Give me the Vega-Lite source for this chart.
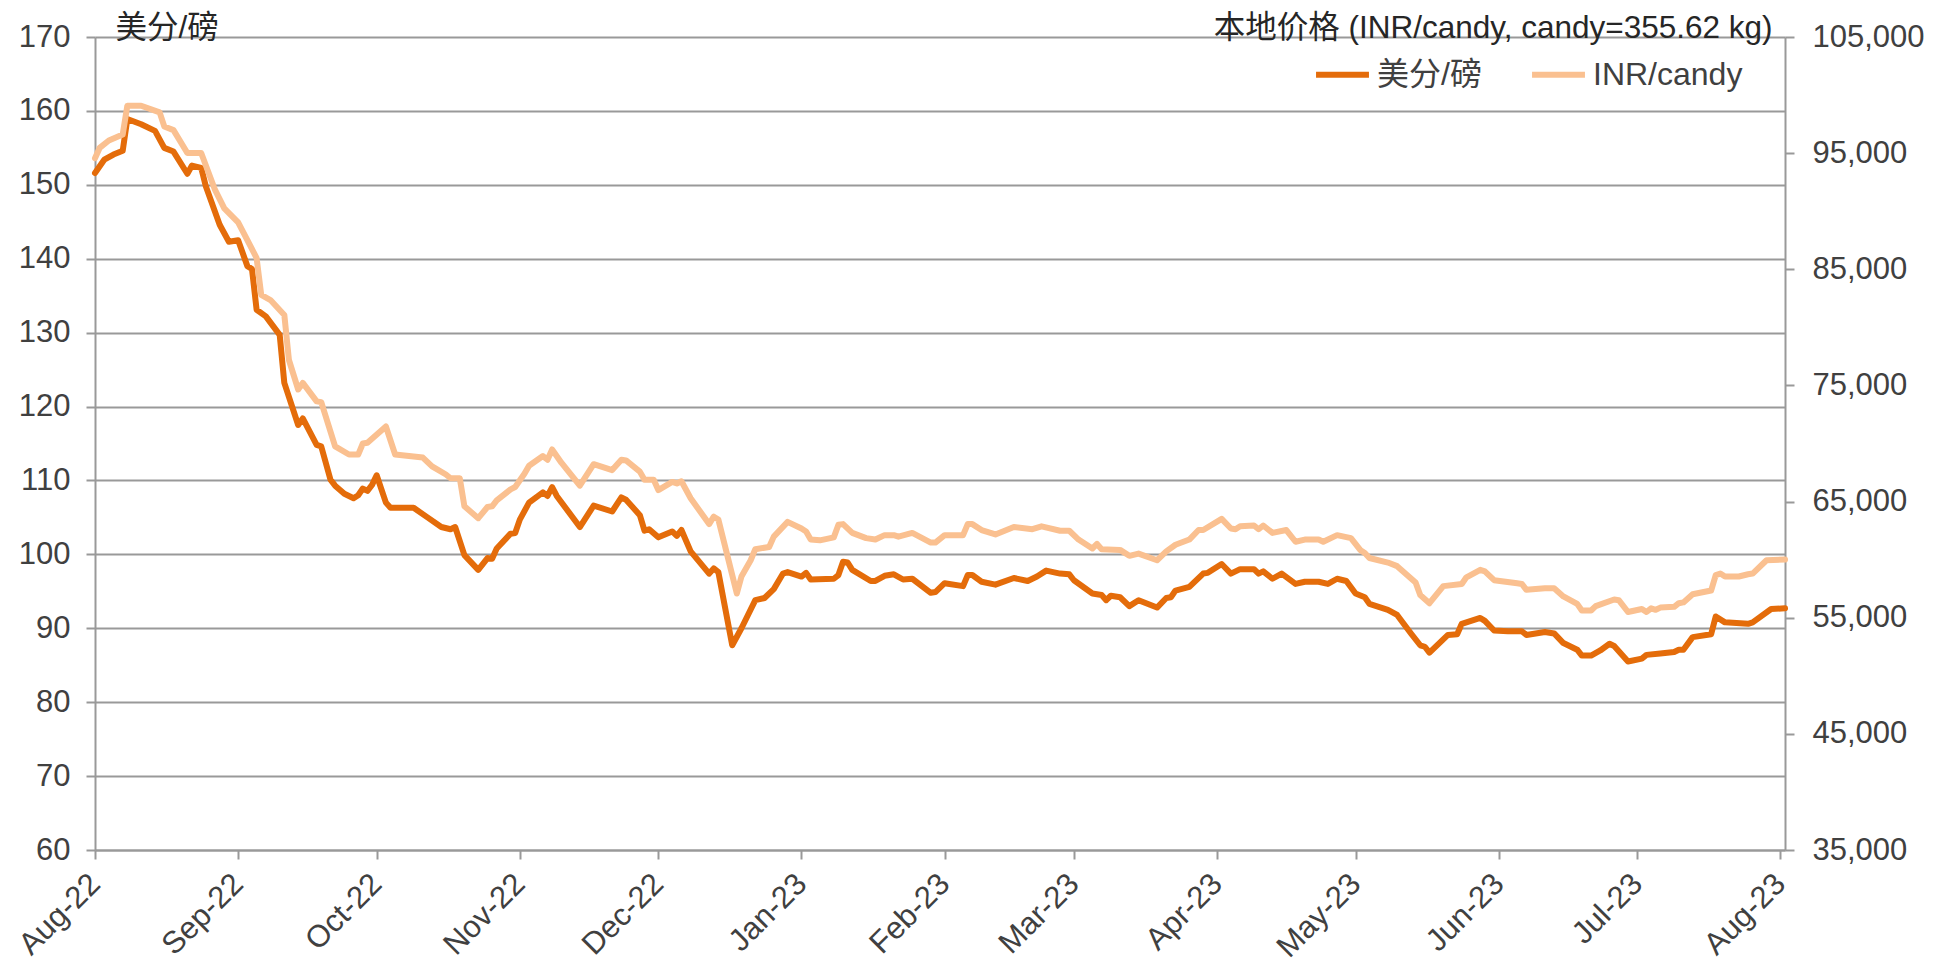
{
  "$schema": "https://vega.github.io/schema/vega-lite/v6.json",
  "autosize": {"type": "none"},
  "padding": {"left": 95, "top": 37, "right": 158, "bottom": 118},
  "width": 1690,
  "height": 813,
  "background": "white",
  "config": {
    "view": {"stroke": null},
    "font": "Liberation Sans",
    "axis": {
      "labelFont": "Liberation Sans",
      "labelFontSize": 31,
      "labelColor": "#404040",
      "domainColor": "#999999",
      "domainWidth": 2,
      "tickColor": "#999999",
      "tickWidth": 2,
      "tickSize": 9,
      "gridColor": "#999999",
      "gridWidth": 2,
      "titleFont": "Liberation Sans, Noto Sans CJK SC",
      "titleFontSize": 31.5,
      "titleFontWeight": "normal",
      "titleColor": "#262626"
    },
    "legend": {
      "labelFont": "Liberation Sans, Noto Sans CJK SC",
      "labelFontSize": 32,
      "labelColor": "#404040"
    }
  },
  "datasets": {
    "usc": [
      {"date": "2022-08-01", "value": 151.6}, {"date": "2022-08-03", "value": 153.4}, {"date": "2022-08-05", "value": 154.1}, {"date": "2022-08-07", "value": 154.6},
      {"date": "2022-08-08", "value": 158.9}, {"date": "2022-08-11", "value": 158.2}, {"date": "2022-08-14", "value": 157.3}, {"date": "2022-08-16", "value": 155.0},
      {"date": "2022-08-18", "value": 154.5}, {"date": "2022-08-21", "value": 151.5}, {"date": "2022-08-22", "value": 152.6}, {"date": "2022-08-24", "value": 152.3},
      {"date": "2022-08-25", "value": 149.8}, {"date": "2022-08-28", "value": 144.6}, {"date": "2022-08-30", "value": 142.3}, {"date": "2022-09-01", "value": 142.5},
      {"date": "2022-09-03", "value": 139.0}, {"date": "2022-09-04", "value": 138.6}, {"date": "2022-09-05", "value": 133.1}, {"date": "2022-09-07", "value": 132.2},
      {"date": "2022-09-10", "value": 129.7}, {"date": "2022-09-11", "value": 123.2}, {"date": "2022-09-14", "value": 117.5}, {"date": "2022-09-15", "value": 118.4},
      {"date": "2022-09-18", "value": 114.8}, {"date": "2022-09-19", "value": 114.6}, {"date": "2022-09-21", "value": 110.1}, {"date": "2022-09-22", "value": 109.3},
      {"date": "2022-09-24", "value": 108.2}, {"date": "2022-09-26", "value": 107.6}, {"date": "2022-09-27", "value": 108.0}, {"date": "2022-09-28", "value": 108.9},
      {"date": "2022-09-29", "value": 108.6}, {"date": "2022-09-30", "value": 109.4}, {"date": "2022-10-01", "value": 110.7}, {"date": "2022-10-03", "value": 107.0},
      {"date": "2022-10-04", "value": 106.3}, {"date": "2022-10-09", "value": 106.3}, {"date": "2022-10-12", "value": 105.0}, {"date": "2022-10-15", "value": 103.7},
      {"date": "2022-10-17", "value": 103.4}, {"date": "2022-10-18", "value": 103.7}, {"date": "2022-10-20", "value": 99.9}, {"date": "2022-10-23", "value": 97.9},
      {"date": "2022-10-25", "value": 99.5}, {"date": "2022-10-26", "value": 99.4}, {"date": "2022-10-27", "value": 100.8}, {"date": "2022-10-30", "value": 102.8},
      {"date": "2022-10-31", "value": 102.9}, {"date": "2022-11-01", "value": 104.7}, {"date": "2022-11-03", "value": 107.0}, {"date": "2022-11-06", "value": 108.4},
      {"date": "2022-11-07", "value": 107.9}, {"date": "2022-11-08", "value": 109.1}, {"date": "2022-11-09", "value": 107.9}, {"date": "2022-11-14", "value": 103.7},
      {"date": "2022-11-17", "value": 106.6}, {"date": "2022-11-21", "value": 105.8}, {"date": "2022-11-23", "value": 107.7}, {"date": "2022-11-24", "value": 107.4},
      {"date": "2022-11-27", "value": 105.3}, {"date": "2022-11-28", "value": 103.2}, {"date": "2022-11-29", "value": 103.4}, {"date": "2022-12-01", "value": 102.3},
      {"date": "2022-12-04", "value": 103.1}, {"date": "2022-12-05", "value": 102.5}, {"date": "2022-12-06", "value": 103.3}, {"date": "2022-12-08", "value": 100.4},
      {"date": "2022-12-12", "value": 97.4}, {"date": "2022-12-13", "value": 98.1}, {"date": "2022-12-14", "value": 97.6}, {"date": "2022-12-17", "value": 87.7},
      {"date": "2022-12-19", "value": 90.0}, {"date": "2022-12-22", "value": 93.8}, {"date": "2022-12-24", "value": 94.1}, {"date": "2022-12-26", "value": 95.3},
      {"date": "2022-12-28", "value": 97.4}, {"date": "2022-12-29", "value": 97.6}, {"date": "2023-01-01", "value": 97.0}, {"date": "2023-01-02", "value": 97.5},
      {"date": "2023-01-03", "value": 96.6}, {"date": "2023-01-08", "value": 96.7}, {"date": "2023-01-09", "value": 97.2}, {"date": "2023-01-10", "value": 99.0},
      {"date": "2023-01-11", "value": 98.9}, {"date": "2023-01-12", "value": 97.9}, {"date": "2023-01-16", "value": 96.4}, {"date": "2023-01-17", "value": 96.4},
      {"date": "2023-01-19", "value": 97.1}, {"date": "2023-01-21", "value": 97.3}, {"date": "2023-01-23", "value": 96.6}, {"date": "2023-01-25", "value": 96.7},
      {"date": "2023-01-29", "value": 94.8}, {"date": "2023-01-30", "value": 94.9}, {"date": "2023-02-01", "value": 96.1}, {"date": "2023-02-05", "value": 95.7},
      {"date": "2023-02-06", "value": 97.2}, {"date": "2023-02-07", "value": 97.2}, {"date": "2023-02-09", "value": 96.3}, {"date": "2023-02-12", "value": 95.9},
      {"date": "2023-02-16", "value": 96.8}, {"date": "2023-02-19", "value": 96.4}, {"date": "2023-02-21", "value": 97.0}, {"date": "2023-02-23", "value": 97.8},
      {"date": "2023-02-26", "value": 97.4}, {"date": "2023-02-28", "value": 97.3}, {"date": "2023-03-01", "value": 96.5}, {"date": "2023-03-05", "value": 94.7},
      {"date": "2023-03-07", "value": 94.5}, {"date": "2023-03-08", "value": 93.8}, {"date": "2023-03-09", "value": 94.4}, {"date": "2023-03-11", "value": 94.2},
      {"date": "2023-03-13", "value": 93.0}, {"date": "2023-03-15", "value": 93.8}, {"date": "2023-03-19", "value": 92.8}, {"date": "2023-03-21", "value": 94.1},
      {"date": "2023-03-22", "value": 94.2}, {"date": "2023-03-23", "value": 95.1}, {"date": "2023-03-26", "value": 95.6}, {"date": "2023-03-29", "value": 97.4},
      {"date": "2023-03-30", "value": 97.5}, {"date": "2023-04-02", "value": 98.7}, {"date": "2023-04-04", "value": 97.4}, {"date": "2023-04-06", "value": 98.0},
      {"date": "2023-04-09", "value": 98.0}, {"date": "2023-04-10", "value": 97.4}, {"date": "2023-04-11", "value": 97.7}, {"date": "2023-04-13", "value": 96.7},
      {"date": "2023-04-15", "value": 97.4}, {"date": "2023-04-18", "value": 96.0}, {"date": "2023-04-20", "value": 96.3}, {"date": "2023-04-23", "value": 96.3},
      {"date": "2023-04-25", "value": 96.0}, {"date": "2023-04-27", "value": 96.7}, {"date": "2023-04-29", "value": 96.4}, {"date": "2023-05-01", "value": 94.7},
      {"date": "2023-05-03", "value": 94.2}, {"date": "2023-05-04", "value": 93.3}, {"date": "2023-05-08", "value": 92.5}, {"date": "2023-05-10", "value": 91.8},
      {"date": "2023-05-13", "value": 89.3}, {"date": "2023-05-15", "value": 87.7}, {"date": "2023-05-16", "value": 87.5}, {"date": "2023-05-17", "value": 86.7},
      {"date": "2023-05-21", "value": 89.1}, {"date": "2023-05-23", "value": 89.2}, {"date": "2023-05-24", "value": 90.6}, {"date": "2023-05-28", "value": 91.4},
      {"date": "2023-05-29", "value": 91.0}, {"date": "2023-05-31", "value": 89.7}, {"date": "2023-06-03", "value": 89.6}, {"date": "2023-06-06", "value": 89.6},
      {"date": "2023-06-07", "value": 89.1}, {"date": "2023-06-11", "value": 89.5}, {"date": "2023-06-13", "value": 89.3}, {"date": "2023-06-15", "value": 88.0},
      {"date": "2023-06-18", "value": 87.1}, {"date": "2023-06-19", "value": 86.3}, {"date": "2023-06-21", "value": 86.3}, {"date": "2023-06-23", "value": 87.0},
      {"date": "2023-06-25", "value": 87.9}, {"date": "2023-06-26", "value": 87.6}, {"date": "2023-06-29", "value": 85.5}, {"date": "2023-07-02", "value": 85.9},
      {"date": "2023-07-03", "value": 86.4}, {"date": "2023-07-06", "value": 86.6}, {"date": "2023-07-09", "value": 86.8}, {"date": "2023-07-10", "value": 87.1},
      {"date": "2023-07-11", "value": 87.1}, {"date": "2023-07-13", "value": 88.8}, {"date": "2023-07-17", "value": 89.2}, {"date": "2023-07-18", "value": 91.6},
      {"date": "2023-07-20", "value": 90.8}, {"date": "2023-07-25", "value": 90.6}, {"date": "2023-07-26", "value": 90.8}, {"date": "2023-07-30", "value": 92.6},
      {"date": "2023-08-02", "value": 92.7}
    ],
    "inr": [
      {"date": "2022-08-01", "value": 94560}, {"date": "2022-08-02", "value": 95450}, {"date": "2022-08-04", "value": 96090}, {"date": "2022-08-07", "value": 96600},
      {"date": "2022-08-08", "value": 99080}, {"date": "2022-08-11", "value": 99080}, {"date": "2022-08-15", "value": 98510}, {"date": "2022-08-16", "value": 97300},
      {"date": "2022-08-18", "value": 96980}, {"date": "2022-08-21", "value": 95010}, {"date": "2022-08-24", "value": 95010}, {"date": "2022-08-27", "value": 91830},
      {"date": "2022-08-29", "value": 90240}, {"date": "2022-09-01", "value": 89030}, {"date": "2022-09-05", "value": 85970}, {"date": "2022-09-06", "value": 82790},
      {"date": "2022-09-08", "value": 82350}, {"date": "2022-09-11", "value": 81070}, {"date": "2022-09-12", "value": 77190}, {"date": "2022-09-14", "value": 74650},
      {"date": "2022-09-15", "value": 75220}, {"date": "2022-09-18", "value": 73630}, {"date": "2022-09-19", "value": 73560}, {"date": "2022-09-22", "value": 69750},
      {"date": "2022-09-25", "value": 69050}, {"date": "2022-09-27", "value": 69050}, {"date": "2022-09-28", "value": 70000}, {"date": "2022-09-29", "value": 70060},
      {"date": "2022-10-03", "value": 71460}, {"date": "2022-10-05", "value": 69050}, {"date": "2022-10-11", "value": 68790}, {"date": "2022-10-13", "value": 68030},
      {"date": "2022-10-16", "value": 67330}, {"date": "2022-10-17", "value": 67010}, {"date": "2022-10-19", "value": 67010}, {"date": "2022-10-20", "value": 64590},
      {"date": "2022-10-23", "value": 63570}, {"date": "2022-10-25", "value": 64530}, {"date": "2022-10-26", "value": 64590}, {"date": "2022-10-27", "value": 65100},
      {"date": "2022-10-30", "value": 66050}, {"date": "2022-10-31", "value": 66250}, {"date": "2022-11-02", "value": 67390}, {"date": "2022-11-03", "value": 68090},
      {"date": "2022-11-06", "value": 68920}, {"date": "2022-11-07", "value": 68600}, {"date": "2022-11-08", "value": 69490}, {"date": "2022-11-10", "value": 68350},
      {"date": "2022-11-14", "value": 66370}, {"date": "2022-11-17", "value": 68220}, {"date": "2022-11-21", "value": 67710}, {"date": "2022-11-23", "value": 68600},
      {"date": "2022-11-24", "value": 68540}, {"date": "2022-11-27", "value": 67580}, {"date": "2022-11-28", "value": 66880}, {"date": "2022-11-30", "value": 66880},
      {"date": "2022-12-01", "value": 65990}, {"date": "2022-12-04", "value": 66690}, {"date": "2022-12-05", "value": 66560}, {"date": "2022-12-06", "value": 66750},
      {"date": "2022-12-08", "value": 65290}, {"date": "2022-12-12", "value": 63060}, {"date": "2022-12-13", "value": 63700}, {"date": "2022-12-14", "value": 63450},
      {"date": "2022-12-18", "value": 57080}, {"date": "2022-12-19", "value": 58550}, {"date": "2022-12-21", "value": 59950}, {"date": "2022-12-22", "value": 60900},
      {"date": "2022-12-25", "value": 61090}, {"date": "2022-12-26", "value": 61980}, {"date": "2022-12-29", "value": 63250}, {"date": "2023-01-01", "value": 62680},
      {"date": "2023-01-02", "value": 62430}, {"date": "2023-01-03", "value": 61730}, {"date": "2023-01-05", "value": 61660}, {"date": "2023-01-08", "value": 61920},
      {"date": "2023-01-09", "value": 63000}, {"date": "2023-01-10", "value": 63060}, {"date": "2023-01-12", "value": 62300}, {"date": "2023-01-15", "value": 61850},
      {"date": "2023-01-17", "value": 61730}, {"date": "2023-01-19", "value": 62110}, {"date": "2023-01-21", "value": 62110}, {"date": "2023-01-22", "value": 61980},
      {"date": "2023-01-25", "value": 62300}, {"date": "2023-01-29", "value": 61470}, {"date": "2023-01-30", "value": 61470}, {"date": "2023-02-01", "value": 62110},
      {"date": "2023-02-05", "value": 62110}, {"date": "2023-02-06", "value": 63060}, {"date": "2023-02-07", "value": 63060}, {"date": "2023-02-09", "value": 62550},
      {"date": "2023-02-12", "value": 62170}, {"date": "2023-02-16", "value": 62810}, {"date": "2023-02-20", "value": 62620}, {"date": "2023-02-22", "value": 62870},
      {"date": "2023-02-26", "value": 62490}, {"date": "2023-02-28", "value": 62490}, {"date": "2023-03-02", "value": 61730}, {"date": "2023-03-05", "value": 60960},
      {"date": "2023-03-06", "value": 61350}, {"date": "2023-03-07", "value": 60900}, {"date": "2023-03-11", "value": 60840}, {"date": "2023-03-13", "value": 60330},
      {"date": "2023-03-15", "value": 60520}, {"date": "2023-03-19", "value": 59950}, {"date": "2023-03-21", "value": 60710}, {"date": "2023-03-23", "value": 61280},
      {"date": "2023-03-26", "value": 61730}, {"date": "2023-03-28", "value": 62550}, {"date": "2023-03-29", "value": 62550}, {"date": "2023-04-02", "value": 63510},
      {"date": "2023-04-04", "value": 62680}, {"date": "2023-04-05", "value": 62620}, {"date": "2023-04-06", "value": 62870}, {"date": "2023-04-09", "value": 62940},
      {"date": "2023-04-10", "value": 62620}, {"date": "2023-04-11", "value": 62940}, {"date": "2023-04-13", "value": 62300}, {"date": "2023-04-16", "value": 62550},
      {"date": "2023-04-18", "value": 61540}, {"date": "2023-04-20", "value": 61730}, {"date": "2023-04-23", "value": 61730}, {"date": "2023-04-24", "value": 61540},
      {"date": "2023-04-27", "value": 62110}, {"date": "2023-04-30", "value": 61850}, {"date": "2023-05-02", "value": 60840}, {"date": "2023-05-03", "value": 60580},
      {"date": "2023-05-04", "value": 60140}, {"date": "2023-05-08", "value": 59750}, {"date": "2023-05-10", "value": 59440}, {"date": "2023-05-14", "value": 58040},
      {"date": "2023-05-15", "value": 56950}, {"date": "2023-05-17", "value": 56250}, {"date": "2023-05-20", "value": 57720}, {"date": "2023-05-24", "value": 57910},
      {"date": "2023-05-25", "value": 58480}, {"date": "2023-05-28", "value": 59120}, {"date": "2023-05-29", "value": 58990}, {"date": "2023-05-31", "value": 58230},
      {"date": "2023-06-05", "value": 57970}, {"date": "2023-06-06", "value": 57910}, {"date": "2023-06-07", "value": 57400}, {"date": "2023-06-11", "value": 57530},
      {"date": "2023-06-13", "value": 57530}, {"date": "2023-06-15", "value": 56830}, {"date": "2023-06-18", "value": 56190}, {"date": "2023-06-19", "value": 55620},
      {"date": "2023-06-21", "value": 55620}, {"date": "2023-06-22", "value": 56000}, {"date": "2023-06-26", "value": 56570}, {"date": "2023-06-27", "value": 56510},
      {"date": "2023-06-29", "value": 55490}, {"date": "2023-07-02", "value": 55750}, {"date": "2023-07-03", "value": 55490}, {"date": "2023-07-04", "value": 55810},
      {"date": "2023-07-05", "value": 55680}, {"date": "2023-07-06", "value": 55870}, {"date": "2023-07-09", "value": 55940}, {"date": "2023-07-10", "value": 56250},
      {"date": "2023-07-11", "value": 56320}, {"date": "2023-07-13", "value": 57020}, {"date": "2023-07-17", "value": 57340}, {"date": "2023-07-18", "value": 58670},
      {"date": "2023-07-19", "value": 58800}, {"date": "2023-07-20", "value": 58550}, {"date": "2023-07-23", "value": 58550}, {"date": "2023-07-25", "value": 58740},
      {"date": "2023-07-26", "value": 58800}, {"date": "2023-07-29", "value": 59950}, {"date": "2023-08-02", "value": 60010}
    ]
  },
  "encoding": {
    "x": {
      "field": "date",
      "type": "temporal",
      "scale": {"type": "utc", "domain": [{"year": 2022, "month": 8, "date": 1, "utc": true}, {"year": 2023, "month": 8, "date": 2, "utc": true}]},
      "axis": {
        "title": null,
        "format": "%b-%y",
        "tickCount": {"interval": "month", "step": 1},
        "labelAngle": -45,
        "labelAlign": "right",
        "labelBaseline": "middle",
        "labelPadding": 20,
        "labelFlush": false,
        "labelOverlap": false,
        "grid": false
      }
    }
  },
  "layer": [
    {
      "data": {"name": "usc"},
      "mark": {"type": "line", "strokeWidth": 6, "strokeJoin": "round", "strokeCap": "round"},
      "encoding": {
        "y": {
          "field": "value",
          "type": "quantitative",
          "scale": {"domain": [60, 170], "nice": false, "zero": false},
          "axis": {
            "orient": "left",
            "values": [60, 70, 80, 90, 100, 110, 120, 130, 140, 150, 160, 170],
            "format": "d",
            "grid": true,
            "labelPadding": 16,
            "title": "美分/磅",
            "titleAngle": 0,
            "titleX": 20,
            "titleY": 0,
            "titleAlign": "left",
            "titleBaseline": "alphabetic"
          }
        },
        "color": {
          "datum": "美分/磅",
          "scale": {"domain": ["美分/磅", "INR/candy"], "range": ["#E46C0A", "#FAC090"]},
          "legend": {
            "title": null,
            "orient": "none",
            "legendX": 1218,
            "legendY": 8,
            "direction": "horizontal",
            "padding": 0,
            "symbolType": "stroke",
            "symbolSize": 2800,
            "symbolStrokeWidth": 6,
            "labelOffset": 5,
            "columnPadding": 38
          }
        }
      }
    },
    {
      "data": {"name": "inr"},
      "mark": {"type": "line", "strokeWidth": 6, "strokeJoin": "round", "strokeCap": "round"},
      "encoding": {
        "y": {
          "field": "value",
          "type": "quantitative",
          "scale": {"domain": [35000, 105000], "nice": false, "zero": false},
          "axis": {
            "orient": "right",
            "values": [35000, 45000, 55000, 65000, 75000, 85000, 95000, 105000],
            "format": ",.0f",
            "grid": false,
            "labelPadding": 18,
            "title": "本地价格 (INR/candy, candy=355.62 kg)",
            "titleAngle": 0,
            "titleX": -13,
            "titleY": 0,
            "titleAlign": "right",
            "titleBaseline": "alphabetic"
          }
        },
        "color": {"datum": "INR/candy"}
      }
    }
  ],
  "resolve": {"scale": {"y": "independent"}, "axis": {"y": "independent"}}
}
